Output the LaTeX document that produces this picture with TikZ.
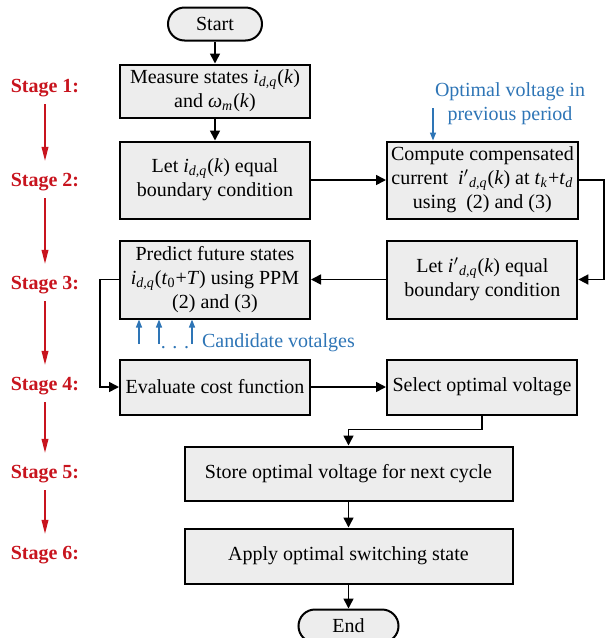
\documentclass[tikz,border=0pt]{standalone}
\usepackage{fontspec}
\setmainfont{Liberation Serif}
\usepackage{tikz}
\usetikzlibrary{arrows.meta, positioning, calc}
\definecolor{boxgray}{HTML}{EDEDED}
\definecolor{stagered}{HTML}{C8141E}
\definecolor{noteblue}{HTML}{2E75B6}
\newcommand{\vi}{\textit{i}}
\newcommand{\sbs}[1]{\textsubscript{\textit{#1}}}

\begin{document}
\begin{tikzpicture}[
    x=0.5pt, y=-0.5pt,
    font=\fontsize{10}{12}\selectfont,
    box/.style={rectangle, draw, line width=1pt, fill=boxgray, align=center, inner xsep=2pt, inner ysep=1pt, minimum width=95pt},
    term/.style={rectangle, rounded corners=8.25pt, draw, line width=1pt, fill=boxgray, minimum width=47pt, minimum height=16.5pt},
    arrow/.style={-{Triangle[length=5pt, width=5pt]}, line width=0.8pt},
    stagelbl/.style={text=stagered, inner sep=1pt, font=\fontsize{10}{12}\selectfont\bfseries},
    stagearrow/.style={-{Triangle[length=7pt, width=3.4pt]}, draw=stagered, fill=stagered, line width=0.6pt, shorten <=2.5pt, shorten >=5pt},
    note/.style={text=noteblue, align=center},
    notearrow/.style={-{Triangle[length=4pt, width=3pt]}, draw=noteblue, fill=noteblue, line width=0.7pt}
]
\useasboundingbox (0,0) rectangle (607,638);

% main column
\node[term] (start) at (215,24) {Start};
\node[box, minimum height=26.5pt, below=11pt of start] (meas) {Measure states \vi\sbs{d,q}(\textit{k})\\ and \textit{ω}\sbs{m}(\textit{k})};
\node[box, minimum height=38.5pt, below=11pt of meas] (letb) {Let \vi\sbs{d,q}(\textit{k}) equal\\ boundary condition};
\node[box, minimum height=38.5pt, right=37.5pt of letb] (comp) {Compute compensated\\ current ~\vi$'$\sbs{d,q}(\textit{k}) at \textit{t}\sbs{k}+\textit{t}\sbs{d}\\ using ~(2) and (3)};
\node[box, minimum height=39pt, below=10pt of letb] (pred) {Predict future states\\ \vi\sbs{d,q}(\textit{t}\textsubscript{0}+\textit{T}) using PPM\\ (2) and (3)};
\node[box, minimum height=39pt, below=10pt of comp] (letp) {Let \vi$'$\sbs{d,q}(\textit{k}) equal\\ boundary condition};
\node[box, minimum height=27.5pt, below=19.5pt of pred] (eval) {Evaluate cost function};
\node[box, minimum height=27.5pt, right=37.5pt of eval] (sel) {Select optimal voltage};
\node[box, minimum width=164pt, minimum height=27pt, below=15pt of $(eval.south)!0.5!(sel.south)$] (store) {Store optimal voltage for next cycle};
\node[box, minimum width=164pt, minimum height=27.5pt, below=13pt of store] (apply) {Apply optimal switching state};
\node[term, minimum width=50pt, below=12pt of apply] (finish) {End};

% stage labels
\node[stagelbl] (stg1) at (45,88) {Stage 1:};
\node[stagelbl] (stg2) at (45,182) {Stage 2:};
\node[stagelbl] (stg3) at (45,285) {Stage 3:};
\node[stagelbl] (stg4) at (45,386) {Stage 4:};
\node[stagelbl] (stg5) at (45,474) {Stage 5:};
\node[stagelbl] (stg6) at (45,555) {Stage 6:};
\foreach \a/\b in {stg1/stg2, stg2/stg3, stg3/stg4, stg4/stg5, stg5/stg6}
    \draw[stagearrow] (\a) -- (\b);

% blue notes
\node[note] (prev) at (510,104) {Optimal voltage in\\ previous period};
\coordinate (prevtail) at (433,108);
\draw[notearrow] (prevtail) -- (prevtail |- comp.north);
\coordinate (cand1) at (139,344);
\coordinate (cand2) at (159,344);
\coordinate (cand3) at (192,344);
\foreach \c in {cand1, cand2, cand3}
    \draw[notearrow] (\c) -- (\c |- pred.south);
\node[note, anchor=base, inner sep=0pt] (dots) at (175,348) {.\,\,.\,\,.};
\node[note, anchor=west] (cand) at (195,343) {Candidate votalges};

% connectors
\draw[arrow] (start) -- (meas);
\draw[arrow] (meas) -- (letb);
\draw[arrow] (letb) -- (comp);
\draw[arrow] (comp.east) -- ++(25,0) |- (letp.east);
\draw[arrow] (letp) -- (pred);
\draw[arrow] (pred.west) -- ++(-19,0) |- (eval.west);
\draw[arrow] (eval) -- (sel);
\draw[arrow] (sel.south) -- ++(0,14) -| (store.north);
\draw[arrow] (store) -- (apply);
\draw[arrow] (apply) -- (finish);
\end{tikzpicture}
\end{document}
